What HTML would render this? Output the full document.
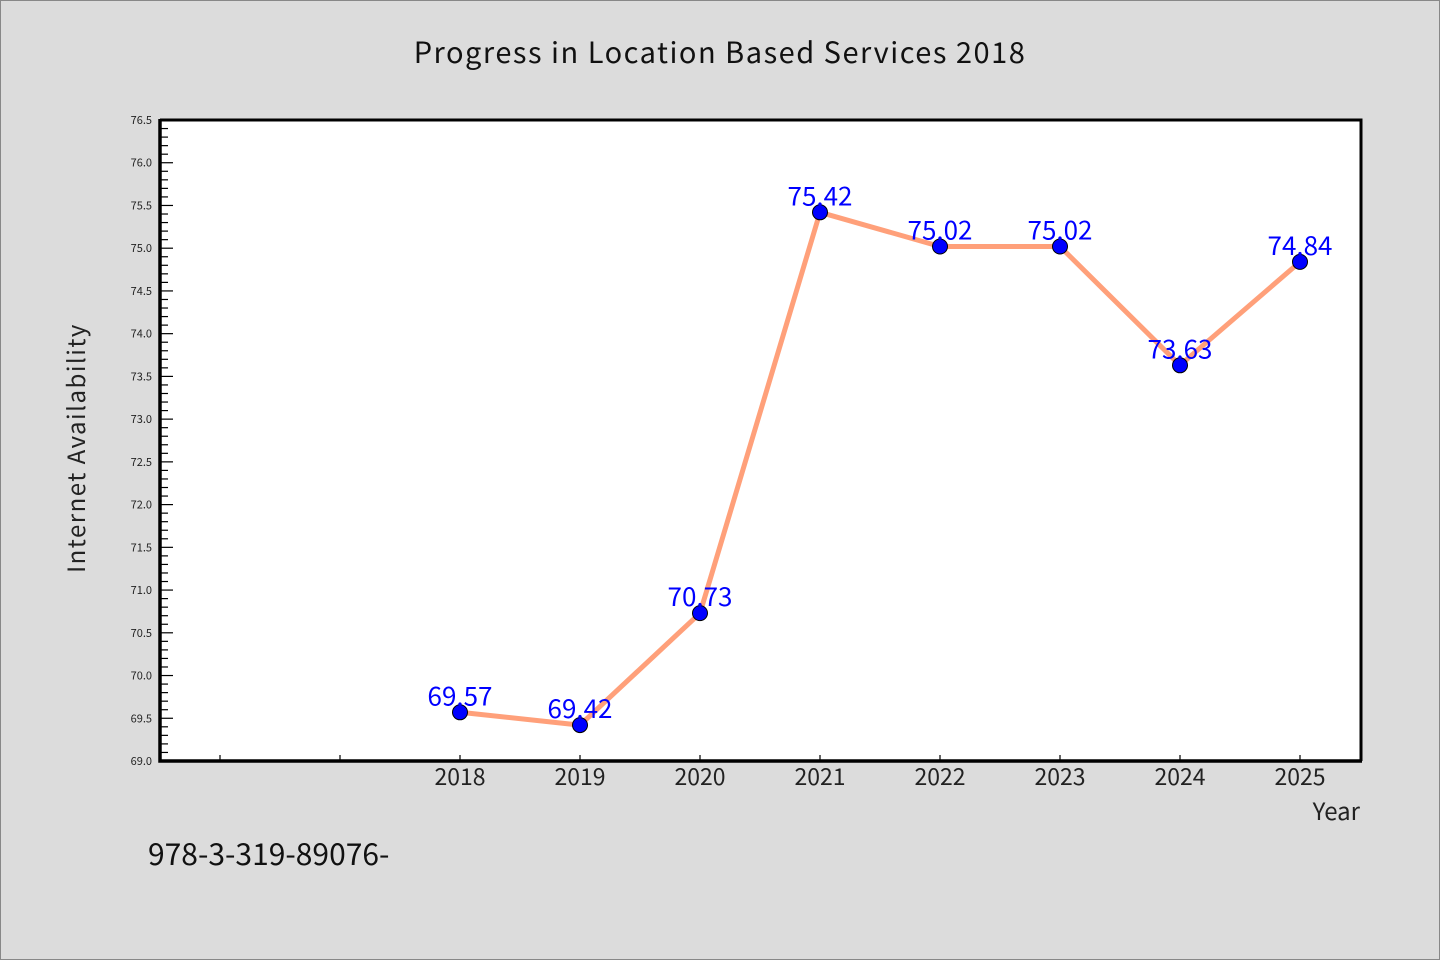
<!DOCTYPE html>
<html><head><meta charset="utf-8"><style>
html,body{margin:0;padding:0;background:#dcdcdc;overflow:hidden;width:1440px;height:960px;}
svg{display:block;}
svg text{font-family:"WenQuanYi Zen Hei","WenQuanYi Zen Hei Mono","WenQuanYi Zen Hei Sharp","Noto Sans CJK SC","Liberation Sans",sans-serif;}
</style></head><body>
<svg width="1440" height="960" viewBox="0 0 1440 960" xmlns="http://www.w3.org/2000/svg">
<rect x="0.5" y="0.5" width="1439" height="959" fill="#dcdcdc" stroke="#888"/>
<text x="720" y="63" font-size="29" text-anchor="middle" fill="#111" letter-spacing="1.5">Progress in Location Based Services 2018</text>
<rect x="160" y="120" width="1201" height="641" fill="#fff"/>
<g id="yaxis"></g>
<g id="xaxis"></g>
<g id="series"></g>
<path d="M160 120 H1361 V761" fill="none" stroke="#000" stroke-width="3"/>
<path d="M160 119 V761 H1362" fill="none" stroke="#000" stroke-width="3.5"/>
<text x="85" y="448" font-size="24" fill="#222" text-anchor="middle" transform="rotate(-90 85 448)" letter-spacing="1.5">Internet Availability</text>
<text x="1360" y="820" font-size="24" fill="#222" text-anchor="end">Year</text>
<text x="148" y="865" font-size="30" fill="#111">978-3-319-89076-</text>
</svg>
<script>
const years = [2018, 2019, 2020, 2021, 2022, 2023, 2024, 2025];
const values = [69.57, 69.42, 70.73, 75.42, 75.02, 75.02, 73.63, 74.84];
const xTickLabels = ["", "", "2018", "2019", "2020", "2021", "2022", "2023", "2024", "2025"];
const xTickYears = [2016, 2017, 2018, 2019, 2020, 2021, 2022, 2023, 2024, 2025];
const yTickLabels = ["69.0","69.5","70.0","70.5","71.0","71.5","72.0","72.5","73.0","73.5","74.0","74.5","75.0","75.5","76.0","76.5"];
const yMin = 69.0, yMax = 76.5;
const NS = "http://www.w3.org/2000/svg";
function xs(yr){ return 460 + (yr - 2018) * 120; }
function ys(v){ return 761 - (v - yMin) / (yMax - yMin) * 641; }
function mk(tag, attrs, parent){ const e = document.createElementNS(NS, tag); for (const k in attrs) e.setAttribute(k, attrs[k]); parent.appendChild(e); return e; }
const ya = document.getElementById('yaxis');
for (let i = 0; i <= 75; i++) {
  const v = yMin + i * 0.1; const y = ys(v); const major = i % 5 === 0;
  const t = mk('line', {x1:160, x2:160 + (major ? 13 : 8), y1:y, y2:y, stroke:'#000', 'stroke-width':1.2}, ya);
  
  
}
yTickLabels.forEach(l => {
  const t = mk('text', {x:152, y:ys(parseFloat(l)) + 4, 'font-size':11, 'text-anchor':'end', fill:'#222'}, ya);
  t.textContent = l;
  
  
});
const xa = document.getElementById('xaxis');
xTickYears.forEach((yr, i) => {
  const x = xs(yr);
  const t = mk('line', {x1:x, x2:x, y1:761, y2:755, stroke:'#000', 'stroke-width':1.2}, xa);
  
  
  if (xTickLabels[i]) {
    const l = mk('text', {x:x, y:785, 'font-size':23, 'text-anchor':'middle', fill:'#222'}, xa);
    l.textContent = xTickLabels[i];
    
    
  }
});
const s = document.getElementById('series');
const line = mk('polyline', {points: years.map((yr, i) => xs(yr) + ',' + ys(values[i])).join(' '), fill:'none', stroke:'#ffa07a', 'stroke-width':5, 'stroke-linejoin':'round'}, s);


years.forEach((yr, i) => {
  const c = mk('circle', {cx:xs(yr), cy:ys(values[i]), r:7.5, fill:'#0000ff', stroke:'#000', 'stroke-width':1}, s);
  
  
});
years.forEach((yr, i) => {
  const t = mk('text', {x:xs(yr), y:ys(values[i]) - 7, 'font-size':26, 'text-anchor':'middle', fill:'#0000ff'}, s);
  t.textContent = values[i].toFixed(2);
  
  
});
</script>
</body></html>
